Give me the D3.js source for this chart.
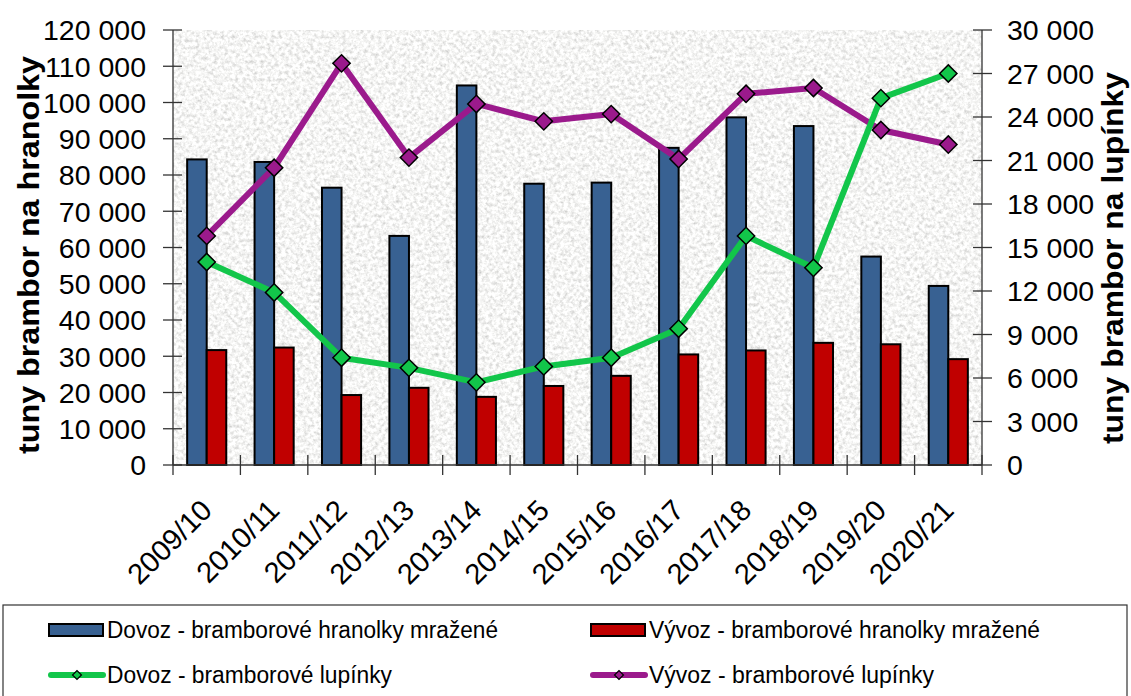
<!DOCTYPE html>
<html><head><meta charset="utf-8">
<script src="https://cdn.jsdelivr.net/npm/d3@7"></script>
<style>
html,body{margin:0;padding:0;background:#fff;}
svg{display:block;font-family:"Liberation Sans",Arial,sans-serif;}
</style></head>
<body>
<svg id="chart" width="1131" height="696"></svg>
<script>
const categories = ["2009/10","2010/11","2011/12","2012/13","2013/14","2014/15","2015/16","2016/17","2017/18","2018/19","2019/20","2020/21"];
const dovozHranolky = [84300,83600,76500,63200,104700,77600,77900,87500,95900,93500,57500,49400];
const vyvozHranolky = [31700,32400,19300,21300,18800,21800,24600,30500,31600,33700,33300,29200];
const dovozLupinky = [14000,11900,7400,6700,5700,6800,7400,9400,15800,13600,25300,27000];
const vyvozLupinky = [15800,20500,27700,21200,24900,23700,24200,21100,25600,26000,23100,22100];
const leftTicks = [0,10000,20000,30000,40000,50000,60000,70000,80000,90000,100000,110000,120000];
const rightTicks = [0,3000,6000,9000,12000,15000,18000,21000,24000,27000,30000];
const leftTitle = "tuny brambor na hranolky";
const rightTitle = "tuny brambor na lupínky";
const legendLabels = ["Dovoz - bramborové hranolky mražené","Vývoz - bramborové hranolky mražené","Dovoz - bramborové lupínky","Vývoz - bramborové lupínky"];
const colors = {dovozH:"#386192", vyvozH:"#c00000", dovozL:"#12c64a", vyvozL:"#9b1a8c"};

const svg = d3.select("#chart");
const m = {left:173, right:982, top:30, bottom:465};
const fmt = v => d3.format(",")(v).replace(/,/g," ");

// texture filter
const defs = svg.append("defs");
const f = defs.append("filter").attr("id","noise").attr("x",0).attr("y",0).attr("width","100%").attr("height","100%");
f.append("feTurbulence").attr("type","fractalNoise").attr("baseFrequency","0.28").attr("numOctaves",4).attr("seed",7).attr("result","t");
f.append("feColorMatrix").attr("in","t").attr("type","matrix")
 .attr("values","0.75 0 0 0 0.54  0.75 0 0 0 0.54  0.75 0 0 0 0.53  0 0 0 0 1");

const x = d3.scaleBand().domain(categories).range([m.left,m.right]);
const yL = d3.scaleLinear().domain([0,120000]).range([m.bottom,m.top]);
const yR = d3.scaleLinear().domain([0,30000]).range([m.bottom,m.top]);

svg.append("rect").attr("x",m.left).attr("y",m.top).attr("width",m.right-m.left).attr("height",m.bottom-m.top)
  .attr("filter","url(#noise)");

// bars
const bw = x.bandwidth()*0.29;
const g = svg.append("g");
g.selectAll(".b1").data(categories).join("rect")
 .attr("x",d=>x(d)+x.bandwidth()/2-bw).attr("width",bw)
 .attr("y",(d,i)=>yL(dovozHranolky[i])).attr("height",(d,i)=>yL(0)-yL(dovozHranolky[i]))
 .attr("fill",colors.dovozH).attr("stroke","#000").attr("stroke-width",2);
g.selectAll(".b2").data(categories).join("rect")
 .attr("x",d=>x(d)+x.bandwidth()/2).attr("width",bw)
 .attr("y",(d,i)=>yL(vyvozHranolky[i])).attr("height",(d,i)=>yL(0)-yL(vyvozHranolky[i]))
 .attr("fill",colors.vyvozH).attr("stroke","#000").attr("stroke-width",2);

// axes
const axisColor = "#333";
const ax = svg.append("g").attr("stroke",axisColor).attr("stroke-width",1.3);
ax.append("line").attr("x1",m.left).attr("x2",m.left).attr("y1",m.top).attr("y2",m.bottom);
ax.append("line").attr("x1",m.right).attr("x2",m.right).attr("y1",m.top).attr("y2",m.bottom);
ax.append("line").attr("x1",m.left).attr("x2",m.right).attr("y1",m.bottom).attr("y2",m.bottom);
leftTicks.forEach(t=>{ax.append("line").attr("x1",m.left-10).attr("x2",m.left+9).attr("y1",yL(t)).attr("y2",yL(t));});
rightTicks.forEach(t=>{ax.append("line").attr("x1",m.right-9).attr("x2",m.right+10).attr("y1",yR(t)).attr("y2",yR(t));});
const bounds = categories.map(c=>x(c)).concat([m.right]);
bounds.forEach(b=>{ax.append("line").attr("x1",b).attr("x2",b).attr("y1",m.bottom-10).attr("y2",m.bottom+10);});

// tick labels
const tl = svg.append("g").attr("font-size",28.5).attr("fill","#000");
leftTicks.forEach(t=>{tl.append("text").attr("x",146).attr("y",yL(t)).attr("dy","0.36em").attr("text-anchor","end").text(fmt(t));});
rightTicks.forEach(t=>{tl.append("text").attr("x",1007).attr("y",yR(t)).attr("dy","0.36em").attr("text-anchor","start").text(fmt(t));});
const xl = svg.append("g").attr("font-size",29).attr("fill","#000");
categories.forEach(c=>{
  const cx = x(c)+x.bandwidth()/2;
  xl.append("text").attr("text-anchor","end").attr("transform",`translate(${cx+7},${512}) rotate(-45)`).text(c);
});

// axis titles
svg.append("text").attr("font-size",30).attr("font-weight","bold").attr("text-anchor","middle")
 .attr("textLength",398).attr("lengthAdjust","spacingAndGlyphs")
 .attr("transform",`translate(39,255) rotate(-90)`).text(leftTitle);
svg.append("text").attr("font-size",30).attr("font-weight","bold").attr("text-anchor","middle")
 .attr("textLength",372).attr("lengthAdjust","spacingAndGlyphs")
 .attr("transform",`translate(1123,258) rotate(-90)`).text(rightTitle);

// lines
const cxf = (i)=>x(categories[i])+x.bandwidth()/2;
function drawLine(vals,color){
  const line = d3.line().x((d,i)=>cxf(i)).y(d=>yR(d));
  svg.append("path").datum(vals).attr("d",line).attr("fill","none").attr("stroke",color).attr("stroke-width",6).attr("stroke-linejoin","round");
  svg.append("g").selectAll("path").data(vals).join("path")
   .attr("d",d3.symbol(d3.symbolSquare,150)())
   .attr("transform",(d,i)=>`translate(${cxf(i)},${yR(d)}) rotate(45)`)
   .attr("fill",color).attr("stroke","#000").attr("stroke-width",1.5);
}
drawLine(vyvozLupinky,colors.vyvozL);
drawLine(dovozLupinky,colors.dovozL);

// legend
const lg = svg.append("g");
lg.append("rect").attr("x",3).attr("y",605).attr("width",1124).attr("height",100).attr("fill","#fff").attr("stroke","#333").attr("stroke-width",1.2);
const items = [
  {t:legendLabels[0], type:"bar", c:colors.dovozH, x:49, y:630, w:391},
  {t:legendLabels[1], type:"bar", c:colors.vyvozH, x:591, y:630, w:391},
  {t:legendLabels[2], type:"line", c:colors.dovozL, x:49, y:675, w:285},
  {t:legendLabels[3], type:"line", c:colors.vyvozL, x:591, y:675, w:285}
];
items.forEach(it=>{
  if(it.type==="bar"){
    lg.append("rect").attr("x",it.x).attr("y",it.y-6).attr("width",54).attr("height",12).attr("fill",it.c).attr("stroke","#000").attr("stroke-width",2);
  } else {
    lg.append("line").attr("x1",it.x+2).attr("x2",it.x+54).attr("y1",it.y).attr("y2",it.y).attr("stroke",it.c).attr("stroke-width",6).attr("stroke-linecap","round");
    lg.append("path").attr("d",d3.symbol(d3.symbolSquare,40)()).attr("transform",`translate(${it.x+28},${it.y}) rotate(45)`)
      .attr("fill",it.c).attr("stroke","#000").attr("stroke-width",1.2);
  }
  lg.append("text").attr("x",it.x+58).attr("y",it.y).attr("dy","0.36em").attr("font-size",23)
    .attr("textLength",it.w).attr("lengthAdjust","spacingAndGlyphs").text(it.t);
});
</script>
</body></html>
